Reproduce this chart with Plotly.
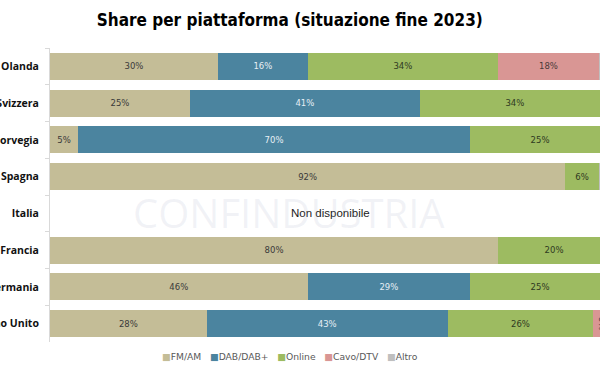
import plotly.graph_objects as go

countries = ["Olanda", "Svizzera", "Norvegia", "Spagna", "Italia", "Francia", "Germania", "Regno Unito"]
fm_am   = [30, 25, 5, 92, None, 80, 46, 28]
dab     = [16, 41, 70, 0, None, 0, 29, 43]
online  = [34, 34, 25, 6, None, 20, 25, 26]
cavo    = [18, 0, 0, 0, None, 0, 0, 3]
altro   = [2, 0, 0, 2, None, 0, 0, 0]

series = [
    ("FM/AM", fm_am, "#c4bd97", "#3a3a3a"),
    ("DAB/DAB+", dab, "#4b849f", "#e6eef4"),
    ("Online", online, "#9dbb61", "#2f3a22"),
    ("Cavo/DTV", cavo, "#d99694", "#4a3a3a"),
    ("Altro", altro, "#bfbfbf", "#3a3a3a"),
]

fig = go.Figure()
for name, vals, color, tcol in series:
    texts = [f"{v}%" if v else "" for v in vals]
    fig.add_trace(go.Bar(
        name=name, y=countries, x=vals, orientation="h",
        marker=dict(color=color, line=dict(width=0)),
        text=texts, textposition="inside", insidetextanchor="middle",
        constraintext="none",
        textfont=dict(family="DejaVu Sans", size=8.5, color=tcol),
        hoverinfo="skip", showlegend=False,
    ))

fig.add_annotation(x=50, y="Italia", xref="x", yref="y", text="Non disponibile",
                   showarrow=False, font=dict(family="Liberation Sans", size=11.5, color="#222222"))

fig.add_annotation(x=0.435, y=0.442, xref="paper", yref="paper", text="CONFINDUSTRIA",
                   showarrow=False, font=dict(family="Open Sans", size=40, color="rgba(170,178,200,0.16)"))

# custom compact legend
legend_text = "&nbsp;&nbsp;&nbsp;".join(
    f"<span style='color:{c}'>■</span>{n}" for n, _, c, _ in series)
fig.add_annotation(x=0.436, y=-0.048, xref="paper", yref="paper",
                   text=legend_text, showarrow=False, xanchor="center", yanchor="middle",
                   font=dict(family="DejaVu Sans", size=9.2, color="#595959"))

fig.update_layout(
    width=600, height=372,
    barmode="stack", bargap=0.26,
    margin=dict(l=50, r=0, t=48, b=30),
    plot_bgcolor="white", paper_bgcolor="white",
    showlegend=False,
    title=dict(text="<b>Share per piattaforma (situazione fine 2023)</b>",
               x=0.483, xref="container", xanchor="center",
               y=1 - 20 / 372, yref="container", yanchor="middle",
               font=dict(family="DejaVu Sans Condensed", size=17, color="#000000")),
    xaxis=dict(range=[0, 98.2], visible=False, fixedrange=True),
    yaxis=dict(autorange="reversed", showline=True, linecolor="#d9d9d9", linewidth=1,
               ticks="outside", tickson="boundaries", ticklen=4, tickcolor="#d9d9d9",
               ticklabelstandoff=8, automargin=False, fixedrange=True,
               tickfont=dict(family="Open Sans", size=10.5, color="#111111", weight="bold"),
               showgrid=False),
)

fig.write_html("out.html", config={"displayModeBar": False},
               post_script="document.body.style.margin='0';")
